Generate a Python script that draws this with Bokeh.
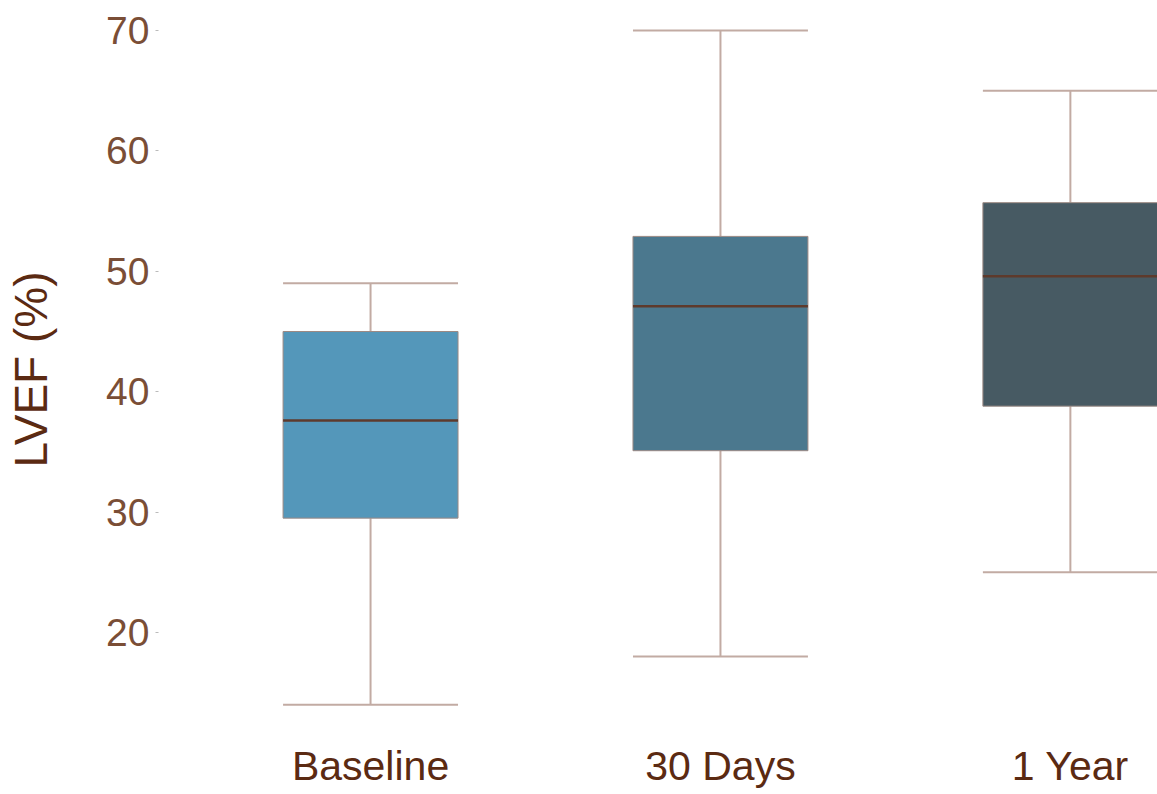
from bokeh.plotting import figure
from bokeh.models import Range1d, FixedTicker, ColumnDataSource
from bokeh.embed import file_html
from bokeh.resources import INLINE

categories = ["Baseline", "30 Days", "1 Year"]
whisker_low = [14.0, 18.0, 25.0]
q1 = [29.5, 35.1, 38.8]
median = [37.6, 47.1, 49.6]
q3 = [45.0, 52.9, 55.7]
whisker_high = [49.0, 70.0, 65.0]
colors = ["#5497ba", "#4b788e", "#475a63"]
y_ticks = [20, 30, 40, 50, 60, 70]

xs = [i + 1 for i in range(len(categories))]
src = ColumnDataSource(dict(x=xs, lo=whisker_low, q1=q1, med=median, q3=q3,
                            hi=whisker_high, color=colors,
                            x0=[x - 0.25 for x in xs], x1=[x + 0.25 for x in xs]))

p = figure(width=1157, height=794, output_backend="svg", toolbar_location=None,
           x_range=Range1d(0.394, 3.249), y_range=Range1d(12.36, 71.33),
           min_border_left=158, min_border_right=0, min_border_top=14,
           min_border_bottom=70)
p.outline_line_color = None
p.grid.visible = False
p.background_fill_color = "white"
p.border_fill_color = "white"

whisk_col = "#c2aba3"
p.segment(x0="x", y0="lo", x1="x", y1="q1", source=src, line_color=whisk_col, line_width=2)
p.segment(x0="x", y0="q3", x1="x", y1="hi", source=src, line_color=whisk_col, line_width=2)
p.segment(x0="x0", y0="lo", x1="x1", y1="lo", source=src, line_color=whisk_col, line_width=2)
p.segment(x0="x0", y0="hi", x1="x1", y1="hi", source=src, line_color=whisk_col, line_width=2)
p.vbar(x="x", width=0.5, bottom="q1", top="q3", source=src, fill_color="color",
       line_color="#9c8a84", line_width=1)
p.segment(x0="x0", y0="med", x1="x1", y1="med", source=src,
          line_color="#5e3a2c", line_width=2.5)

p.xaxis.ticker = FixedTicker(ticks=xs)
p.xaxis.major_label_overrides = {x: c for x, c in zip(xs, categories)}
p.xaxis.axis_line_color = None
p.xaxis.major_tick_line_color = None
p.xaxis.minor_tick_line_color = None
p.xaxis.major_label_text_font = "Liberation Sans"
p.xaxis.major_label_text_font_size = "41px"
p.xaxis.major_label_text_color = "#5b2a12"
p.xaxis.major_label_standoff = 12

p.yaxis.ticker = FixedTicker(ticks=y_ticks)
p.yaxis.axis_line_color = None
p.yaxis.minor_tick_line_color = None
p.yaxis.major_tick_line_color = "#bbbbbb"
p.yaxis.major_tick_out = 3
p.yaxis.major_tick_in = 0
p.yaxis.major_label_text_font = "Liberation Sans"
p.yaxis.major_label_text_font_size = "39px"
p.yaxis.major_label_text_color = "#7a4e36"
p.yaxis.major_label_standoff = 6
p.yaxis.axis_label = "LVEF (%)"
p.yaxis.axis_label_text_font = "Liberation Sans"
p.yaxis.axis_label_text_font_size = "46px"
p.yaxis.axis_label_text_font_style = "normal"
p.yaxis.axis_label_text_color = "#5b2a12"
p.yaxis.axis_label_standoff = 46

open("out.html", "w").write(file_html(p, INLINE))
